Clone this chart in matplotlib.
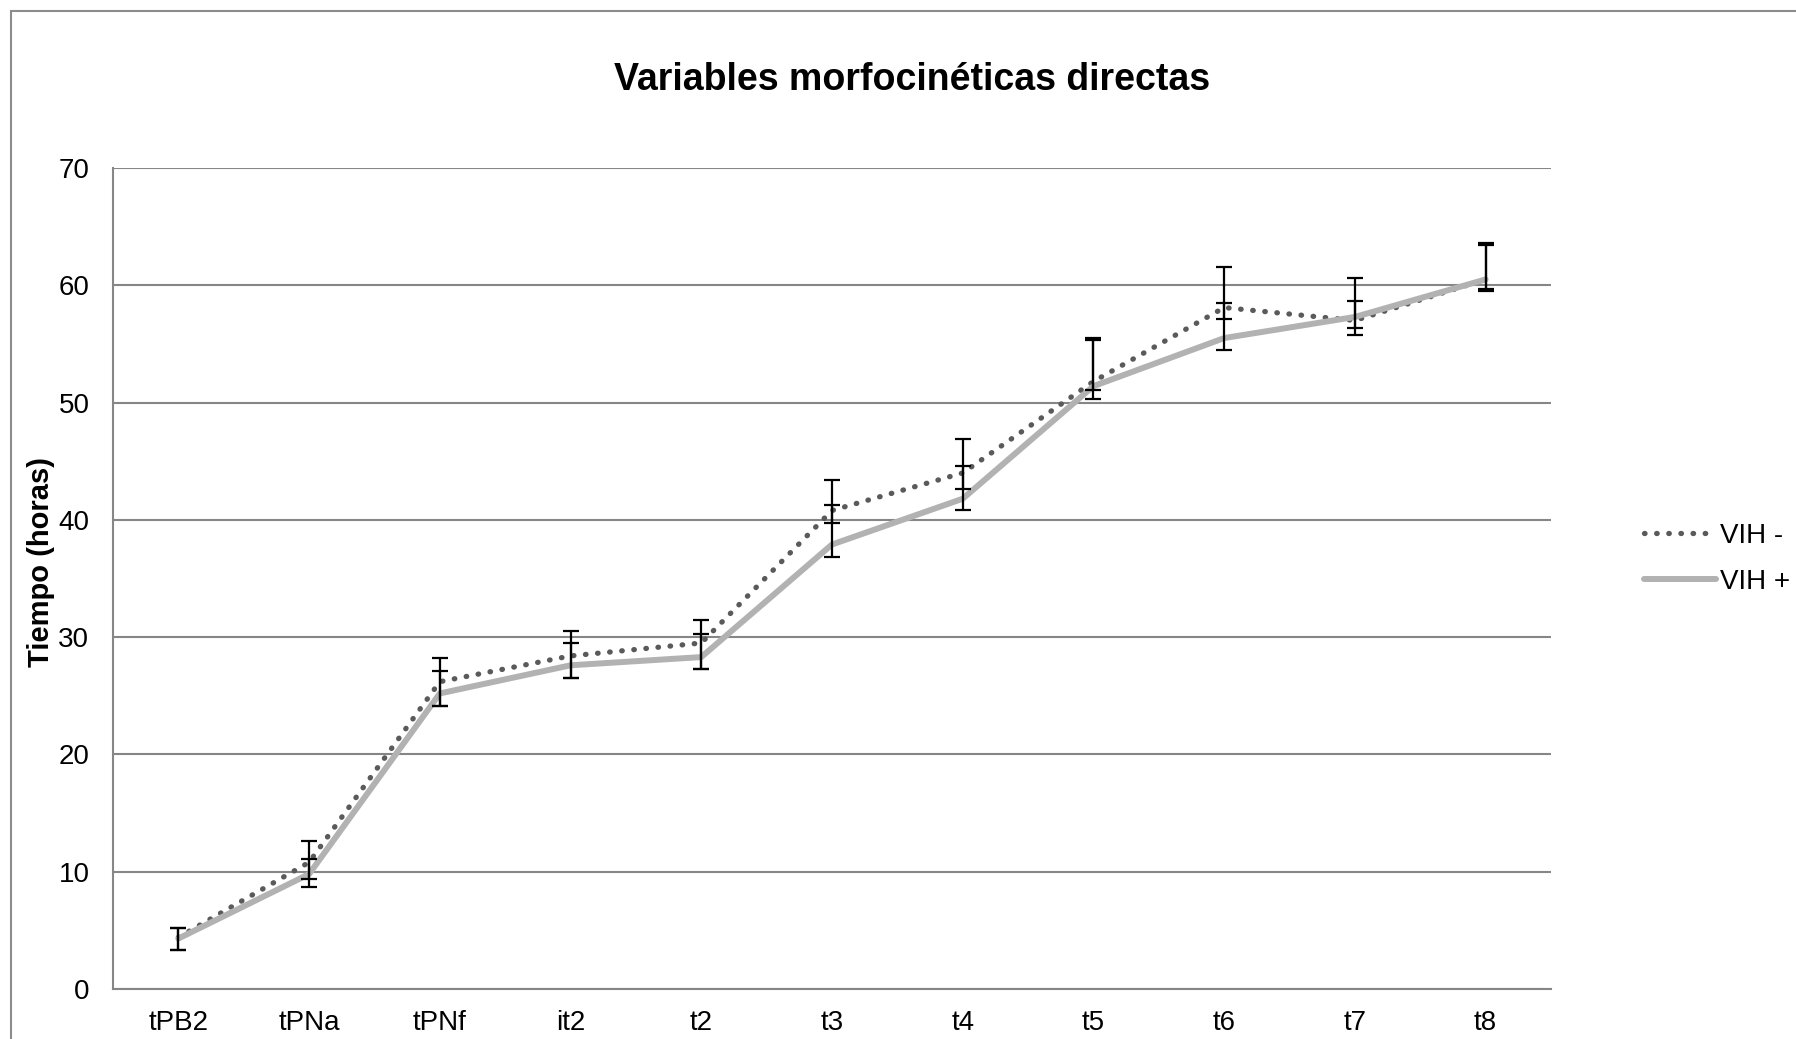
import matplotlib.pyplot as plt
from matplotlib.patches import Rectangle

plt.rcParams['font.family'] = ['Liberation Sans', 'DejaVu Sans']

# Datos
etapas = ["tPB2", "tPNa", "tPNf", "it2", "t2", "t3", "t4", "t5", "t6", "t7", "t8"]

vih_neg = [4.4, 10.8, 26.2, 28.4, 29.5, 40.8, 44.0, 51.8, 58.1, 57.0, 60.5]
vih_neg_sup = [0.8, 1.8, 2.0, 2.1, 2.0, 2.6, 2.9, 3.7, 3.5, 3.6, 3.1]
vih_neg_inf = [1.1, 1.45, 2.1, 1.9, 2.2, 1.1, 1.4, 0.7, 1.0, 0.6, 0.8]

vih_pos = [4.3, 9.8, 25.2, 27.6, 28.3, 37.9, 41.8, 51.4, 55.5, 57.3, 60.5]
vih_pos_sup = [0.9, 1.3, 1.9, 1.9, 2.0, 3.4, 2.8, 3.9, 3.0, 1.4, 2.9]
vih_pos_inf = [1.0, 1.1, 1.1, 1.1, 1.0, 1.1, 1.0, 1.1, 1.0, 1.5, 1.0]


fig = plt.figure(figsize=(17.96, 10.39), dpi=100)
fig.patches.append(Rectangle((11 / 1796, -0.1), 1.2, 1.1 - 11 / 1039,
                             transform=fig.transFigure, fill=False,
                             edgecolor="#8c8c8c", linewidth=1.5))

ax = fig.add_axes([113 / 1796, 1 - 989 / 1039, (1551 - 113) / 1796, (989 - 168) / 1039])
x = list(range(len(etapas)))

ax.plot(x, vih_neg, color="#5a5a5a", linewidth=3.8, linestyle=(0, (0.1, 2.2)),
        dash_capstyle="round", label="VIH -", zorder=3)
ax.plot(x, vih_pos, color="#b2b2b2", linewidth=4.3, label="VIH +",
        solid_capstyle="round", zorder=4)

ax.errorbar(x, vih_neg, yerr=[vih_neg_inf, vih_neg_sup], fmt="none",
            ecolor="black", elinewidth=1.6, capsize=6, capthick=1.6, zorder=5)
ax.errorbar(x, vih_pos, yerr=[vih_pos_inf, vih_pos_sup], fmt="none",
            ecolor="black", elinewidth=1.6, capsize=6, capthick=1.6, zorder=5)

ax.set_xlim(-0.5, len(etapas) - 0.5)
ax.set_ylim(0, 70)
ax.set_yticks(range(0, 71, 10))
ax.set_xticks(x)
ax.set_xticklabels(etapas)
ax.tick_params(axis="both", length=0, labelsize=20)
ax.tick_params(axis="y", pad=17)
ax.tick_params(axis="x", pad=15)
ax.grid(axis="y", color="#868686", linewidth=1.5)
ax.set_axisbelow(True)
for s in ["top", "right"]:
    ax.spines[s].set_visible(False)
for s in ["left", "bottom"]:
    ax.spines[s].set_color("#868686")
    ax.spines[s].set_linewidth(1.5)

ax.set_ylabel("Tiempo (horas)", fontsize=21, fontweight="bold")
ax.yaxis.set_label_coords(-0.040, 0.52)

fig.text(0.508, 1 - 80 / 1039, "Variables morfocinéticas directas",
         fontsize=27, fontweight="bold", ha="center", va="center")

ax.legend(loc="center left", bbox_to_anchor=(1.047, 0.524), frameon=False,
          fontsize=20, handlelength=2.6, handletextpad=0.15, labelspacing=0.72)

fig.savefig("out.png", dpi=100)
